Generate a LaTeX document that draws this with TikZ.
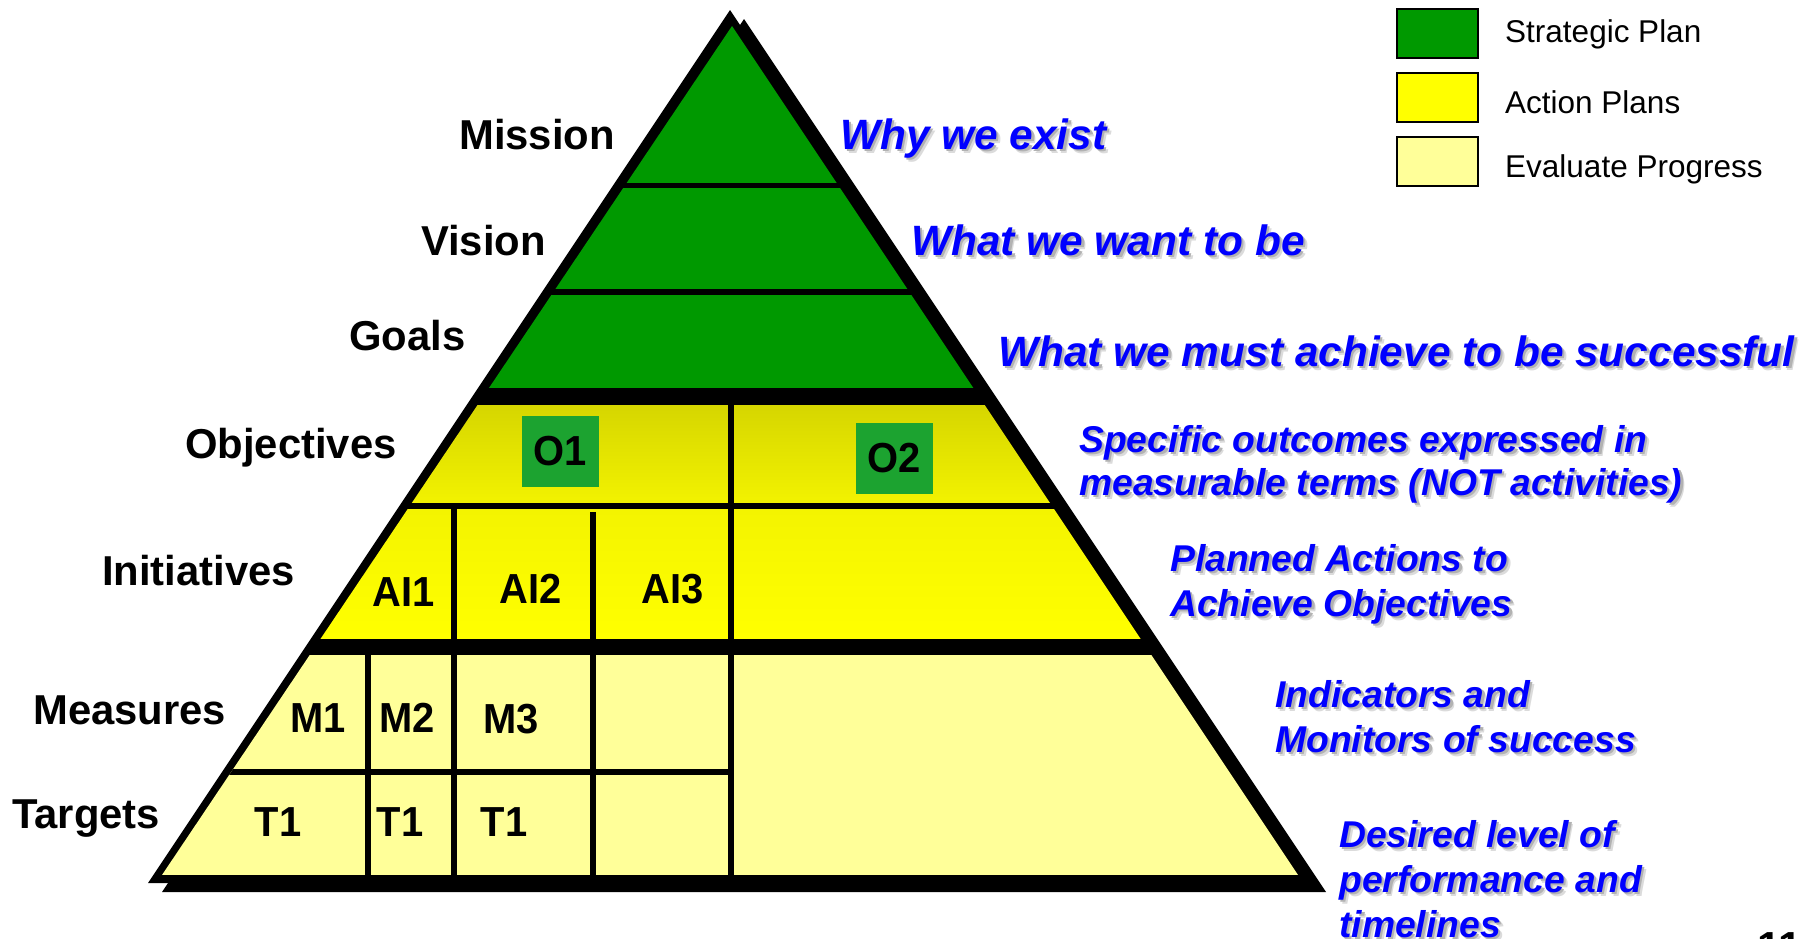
\documentclass[tikz,border=0pt]{standalone}
\usepackage{fontspec}
\setmainfont{Liberation Sans}
\newfontfamily\cellfont[FakeStretch=0.95]{Liberation Sans}

\definecolor{pgreen}{RGB}{0,153,0}
\definecolor{boxgreen}{RGB}{28,163,48}
\definecolor{objtop}{RGB}{214,214,0}
\definecolor{objbot}{RGB}{242,242,0}
\definecolor{inittop}{RGB}{244,244,0}
\definecolor{initbot}{RGB}{255,255,0}
\definecolor{paleyellow}{RGB}{255,255,153}
\definecolor{noteblue}{RGB}{0,0,255}

\tikzset{
  levellabel/.style={anchor=base west, inner sep=0pt, font=\bfseries\fontsize{41.8}{48}\selectfont},
  bignote/.style={anchor=base west, inner sep=0pt, font=\bfseries\itshape\fontsize{42.4}{48}\selectfont},
  smallnote/.style={anchor=base west, inner sep=0pt, font=\bfseries\itshape\fontsize{37.3}{43}\selectfont},
  celltext/.style={inner sep=0pt, font=\cellfont\bfseries\fontsize{42}{48}\selectfont},
  objbox/.style={celltext, fill=boxgreen, minimum width=77pt, minimum height=71pt},
  keybox/.style={draw=black, line width=1.5pt, minimum width=81pt, minimum height=49pt, inner sep=0pt},
  keytext/.style={anchor=base west, inner sep=0pt, font=\fontsize{31.5}{36}\selectfont},
  divider/.style={line width=6pt},
}

% blue note with a soft grey drop shadow: name, style, x, y, text
\newcommand\shadednote[5]{%
  \node[#2, text=black!14] (#1-sh2) at ([shift={(4,4)}]#3,#4) {#5};
  \node[#2, text=black!30] (#1-sh1) at ([shift={(2.5,2.5)}]#3,#4) {#5};
  \node[#2, text=noteblue] (#1) at (#3,#4) {#5};}

\begin{document}
\begin{tikzpicture}[x=1pt,y=-1pt]
\useasboundingbox (0,0) rectangle (1810,938);
\clip (0,0) rectangle (1810,938);
\fill[white] (0,0) rectangle (1810,938);

% pyramid: drop shadow and black outline
\fill[black] (744,19) -- (162,892) -- (1326,892) -- cycle;
\fill[black] (730,10) -- (148,883) -- (1312,883) -- cycle;

\begin{scope}
  \clip (732,26) -- (162,875) -- (1298,875) -- cycle;
  % strategic plan levels
  \fill[pgreen] (100,0) rectangle (1400,183);
  \fill[pgreen] (100,188) rectangle (1400,289);
  \fill[pgreen] (100,295) rectangle (1400,388);
  % action plan levels
  \shade[top color=objtop, bottom color=objbot] (100,405) rectangle (1400,502);
  \shade[top color=inittop, bottom color=initbot] (100,509) rectangle (1400,638);
  % evaluation levels
  \fill[paleyellow] (100,655) rectangle (1400,875);
  % cell dividers
  \draw[divider] (731,400) -- (731,880);
  \draw[divider] (454,505) -- (454,880);
  \draw[divider] (593,512) -- (593,880);
  \draw[divider, line width=5.5pt] (368,650) -- (368,880);
  \draw[divider] (100,772) -- (731,772);
\end{scope}

% objective boxes
\node[objbox] (o1) at (560.5,451.5) {O1};
\node[objbox] (o2) at (894,458.5) {O2};

% initiative, measure and target cells
\node[celltext] (ai1) at (404,592) {AI1};
\node[celltext] (ai2) at (531,589) {AI2};
\node[celltext] (ai3) at (673,589) {AI3};
\node[celltext] (m1) at (318,718) {M1};
\node[celltext] (m2) at (407,718) {M2};
\node[celltext] (m3) at (511,719) {M3};
\node[celltext] (t1a) at (278,822) {T1};
\node[celltext] (t1b) at (400,822) {T1};
\node[celltext] (t1c) at (504,822) {T1};

% level names
\node[levellabel] (mission) at (459,149) {Mission};
\node[levellabel] (vision) at (421,255) {Vision};
\node[levellabel] (goals) at (349,350) {Goals};
\node[levellabel] (objectives) at (185,458) {Objectives};
\node[levellabel] (initiatives) at (102,585) {Initiatives};
\node[levellabel] (measures) at (33,724) {Measures};
\node[levellabel] (targets) at (12,828) {Targets};

% explanations
\shadednote{why}{bignote}{840}{149}{Why we exist}
\shadednote{want}{bignote}{911}{255}{What we want to be}
\shadednote{must}{bignote}{998}{366}{What we must achieve to be successful}
\shadednote{spec1}{smallnote}{1079}{452}{Specific outcomes expressed in}
\shadednote{spec2}{smallnote}{1079}{495}{measurable terms (NOT activities)}
\shadednote{plan1}{smallnote}{1170}{571}{Planned Actions to}
\shadednote{plan2}{smallnote}{1170}{616}{Achieve Objectives}
\shadednote{ind1}{smallnote}{1275}{707}{Indicators and}
\shadednote{ind2}{smallnote}{1275}{752}{Monitors of success}
\shadednote{des1}{smallnote}{1339}{847}{Desired level of}
\shadednote{des2}{smallnote}{1339}{892}{performance and}
\shadednote{des3}{smallnote}{1339}{937}{timelines}

% key
\node[keybox, fill=pgreen] (keystrat) at (1437.5,33.5) {};
\node[keybox, fill=initbot] (keyaction) at (1437.5,97.5) {};
\node[keybox, fill=paleyellow] (keyeval) at (1437.5,161.5) {};
\node[keytext] (keystrattext) at (1505,42) {Strategic Plan};
\node[keytext] (keyactiontext) at (1505,113) {Action Plans};
\node[keytext] (keyevaltext) at (1505,177) {Evaluate Progress};

% page number
\node[anchor=base west, inner sep=0pt, font=\bfseries\fontsize{42}{48}\selectfont] (pagenum) at (1757,961) {11};
\end{tikzpicture}
\end{document}
